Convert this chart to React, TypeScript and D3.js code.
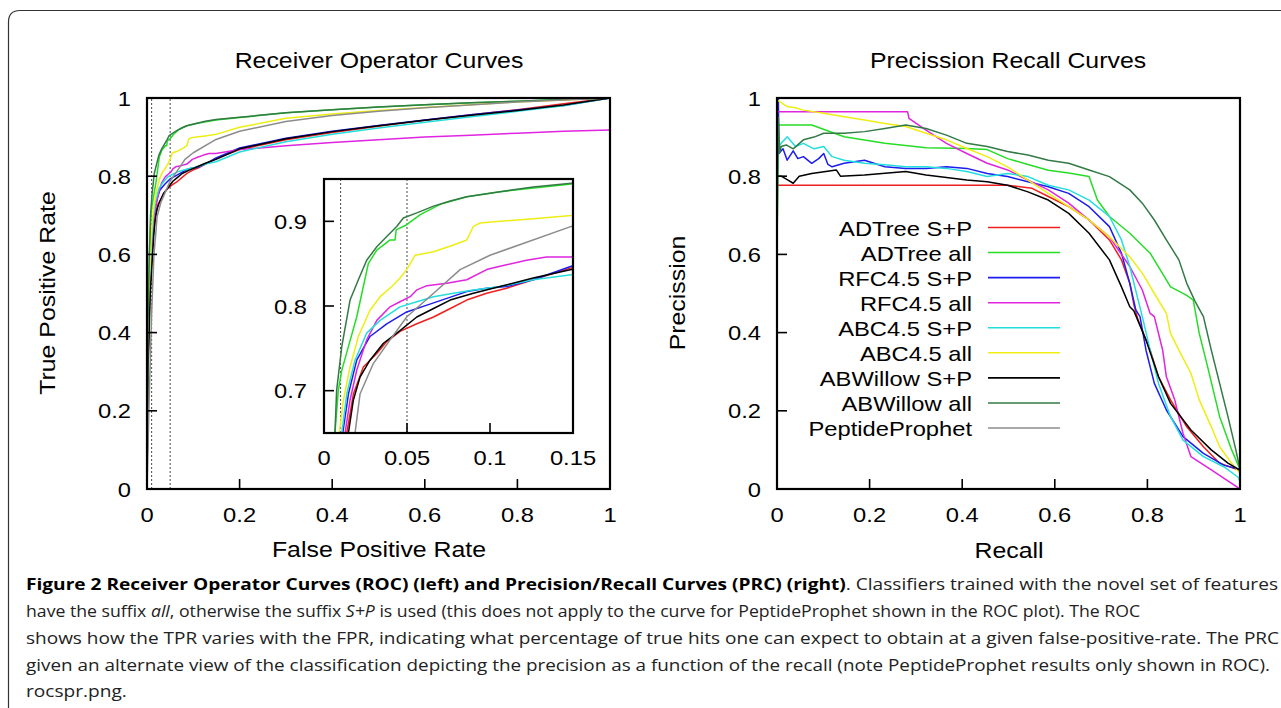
import * as d3 from 'd3'
import { useEffect, useRef } from 'react'

const seriesNames = ["ADTree S+P", "ADTree all", "RFC4.5 S+P", "RFC4.5 all", "ABC4.5 S+P", "ABC4.5 all", "ABWillow S+P", "ABWillow all", "PeptideProphet"]
const seriesColors = ["#ee1f1f", "#26dd26", "#1c1cee", "#e024e0", "#24dede", "#eeee14", "#000000", "#337a46", "#8c8c8c"]

// ROC points: [false positive rate, true positive rate]
const rocAdtreeSP = [[0,0],[0.002,0.3],[0.006,0.5],[0.01,0.58],[0.0137,0.65],[0.0177,0.696],[0.0237,0.728],[0.0318,0.744],[0.0378,0.758],[0.0458,0.77],[0.0559,0.779],[0.066,0.787],[0.074,0.795],[0.086,0.807],[0.098,0.815],[0.11,0.821],[0.126,0.831],[0.149,0.845],[0.2,0.868],[0.3,0.893],[0.4,0.912],[0.5,0.928],[0.6,0.943],[0.7,0.957],[0.8,0.97],[0.9,0.985],[1,1]]
const rocAdtreeAll = [[0,0],[0.002,0.35],[0.005,0.58],[0.0066,0.65],[0.0086,0.7],[0.0107,0.724],[0.0147,0.752],[0.0197,0.787],[0.0237,0.823],[0.0267,0.85],[0.0318,0.866],[0.0398,0.878],[0.0428,0.878],[0.0435,0.89],[0.0498,0.896],[0.058,0.908],[0.07,0.92],[0.086,0.929],[0.106,0.935],[0.149,0.944],[0.2,0.95],[0.3,0.962],[0.4,0.97],[0.5,0.977],[0.6,0.983],[0.7,0.988],[0.8,0.992],[0.9,0.996],[1,1]]
const rocRfcSP = [[0,0],[0.002,0.32],[0.006,0.52],[0.0113,0.65],[0.0147,0.696],[0.0197,0.736],[0.0277,0.764],[0.0378,0.779],[0.0498,0.793],[0.062,0.801],[0.074,0.809],[0.086,0.817],[0.098,0.821],[0.11,0.823],[0.126,0.831],[0.149,0.847],[0.2,0.872],[0.3,0.897],[0.4,0.915],[0.5,0.93],[0.6,0.944],[0.7,0.957],[0.8,0.969],[0.9,0.981],[1,1]]
const rocRfcAll = [[0,0],[0.002,0.33],[0.006,0.53],[0.0127,0.65],[0.0157,0.689],[0.0197,0.724],[0.0257,0.76],[0.0318,0.783],[0.0398,0.799],[0.0458,0.805],[0.0519,0.811],[0.0559,0.819],[0.062,0.824],[0.074,0.827],[0.086,0.831],[0.098,0.843],[0.106,0.847],[0.122,0.854],[0.134,0.858],[0.149,0.858],[0.2,0.868],[0.3,0.878],[0.4,0.886],[0.5,0.893],[0.6,0.9],[0.7,0.905],[0.8,0.91],[0.9,0.915],[1,0.918]]
const rocAbcSP = [[0,0],[0.002,0.33],[0.006,0.54],[0.0107,0.65],[0.0137,0.696],[0.0187,0.736],[0.0257,0.768],[0.0338,0.783],[0.0458,0.799],[0.0559,0.805],[0.066,0.811],[0.078,0.815],[0.09,0.819],[0.106,0.823],[0.126,0.831],[0.149,0.837],[0.2,0.862],[0.3,0.888],[0.4,0.907],[0.5,0.923],[0.6,0.938],[0.7,0.952],[0.8,0.966],[0.9,0.98],[1,1]]
const rocAbcAll = [[0,0],[0.002,0.34],[0.006,0.56],[0.0092,0.65],[0.0117,0.689],[0.0157,0.728],[0.0207,0.764],[0.0277,0.795],[0.0338,0.811],[0.0408,0.823],[0.0458,0.833],[0.0498,0.843],[0.0549,0.86],[0.066,0.864],[0.078,0.872],[0.086,0.878],[0.09,0.894],[0.094,0.898],[0.106,0.9],[0.126,0.903],[0.149,0.907],[0.2,0.925],[0.3,0.948],[0.4,0.959],[0.5,0.968],[0.6,0.976],[0.7,0.983],[0.8,0.99],[0.9,0.995],[1,1]]
const rocWillowSP = [[0,0],[0.002,0.3],[0.007,0.5],[0.0147,0.65],[0.0177,0.689],[0.0217,0.716],[0.0277,0.736],[0.0358,0.756],[0.0458,0.771],[0.0559,0.787],[0.066,0.797],[0.076,0.807],[0.09,0.815],[0.106,0.823],[0.126,0.833],[0.149,0.843],[0.2,0.87],[0.3,0.896],[0.4,0.914],[0.5,0.929],[0.6,0.943],[0.7,0.956],[0.8,0.968],[0.9,0.982],[1,1]]
const rocWillowAll = [[0,0],[0.002,0.4],[0.005,0.6],[0.0066,0.65],[0.0076,0.7],[0.0107,0.752],[0.0157,0.807],[0.0207,0.831],[0.0257,0.854],[0.0318,0.87],[0.0378,0.882],[0.0438,0.894],[0.0478,0.904],[0.0559,0.91],[0.066,0.918],[0.076,0.924],[0.086,0.929],[0.106,0.935],[0.126,0.9405],[0.149,0.945],[0.2,0.951],[0.3,0.962],[0.4,0.97],[0.5,0.977],[0.6,0.983],[0.7,0.988],[0.8,0.992],[0.9,0.996],[1,1]]
const rocPeptide = [[0,0],[0.004,0.2],[0.01,0.45],[0.015,0.6],[0.0187,0.65],[0.0217,0.696],[0.0297,0.732],[0.0398,0.76],[0.0498,0.787],[0.066,0.815],[0.082,0.843],[0.1,0.86],[0.149,0.894],[0.2,0.915],[0.3,0.94],[0.4,0.955],[0.5,0.966],[0.6,0.975],[0.8,0.99],[1,1]]
const rocCurves = [rocAdtreeSP, rocAdtreeAll, rocRfcSP, rocRfcAll, rocAbcSP, rocAbcAll, rocWillowSP, rocWillowAll, rocPeptide]

// PRC points: [recall, precision]
const prcAdtreeSP = [[0,0.777],[0.498,0.777],[0.551,0.769],[0.586,0.748],[0.63,0.722],[0.674,0.688],[0.718,0.637],[0.744,0.586],[0.762,0.526],[0.771,0.47],[0.78,0.432],[0.806,0.355],[0.824,0.287],[0.85,0.228],[0.885,0.159],[0.921,0.108],[0.956,0.066],[0.996,0.049],[1,0.048]]
const prcAdtreeAll = [[0,0.62],[0.003,0.931],[0.075,0.931],[0.145,0.901],[0.233,0.884],[0.322,0.873],[0.41,0.871],[0.454,0.868],[0.498,0.845],[0.542,0.83],[0.586,0.815],[0.63,0.808],[0.674,0.799],[0.692,0.739],[0.718,0.697],[0.762,0.654],[0.806,0.603],[0.85,0.517],[0.885,0.495],[0.899,0.483],[0.912,0.398],[0.93,0.313],[0.956,0.185],[0.982,0.1],[1,0.05]]
const prcRfcSP = [[0,1],[0.003,1],[0.004,0.858],[0.013,0.87],[0.022,0.841],[0.035,0.865],[0.045,0.845],[0.057,0.85],[0.075,0.833],[0.09,0.845],[0.101,0.858],[0.11,0.83],[0.119,0.824],[0.145,0.833],[0.189,0.841],[0.233,0.824],[0.278,0.82],[0.322,0.82],[0.366,0.824],[0.41,0.82],[0.454,0.807],[0.498,0.799],[0.542,0.786],[0.586,0.773],[0.63,0.756],[0.674,0.722],[0.718,0.671],[0.744,0.603],[0.762,0.526],[0.775,0.458],[0.784,0.441],[0.797,0.355],[0.815,0.27],[0.841,0.202],[0.877,0.134],[0.921,0.091],[0.965,0.061],[1,0.05]]
const prcRfcAll = [[0,0.965],[0.282,0.965],[0.285,0.948],[0.322,0.918],[0.366,0.884],[0.41,0.858],[0.454,0.833],[0.498,0.816],[0.542,0.79],[0.586,0.765],[0.63,0.731],[0.674,0.688],[0.718,0.645],[0.762,0.569],[0.789,0.509],[0.806,0.449],[0.815,0.441],[0.833,0.355],[0.841,0.287],[0.859,0.228],[0.877,0.142],[0.894,0.083],[0.938,0.049],[1,0]]
const prcAbcSP = [[0,0.87],[0.009,0.884],[0.022,0.901],[0.04,0.876],[0.057,0.884],[0.08,0.87],[0.101,0.876],[0.119,0.85],[0.145,0.841],[0.189,0.833],[0.233,0.829],[0.278,0.824],[0.322,0.824],[0.366,0.82],[0.41,0.812],[0.454,0.799],[0.498,0.807],[0.542,0.799],[0.586,0.777],[0.63,0.765],[0.674,0.739],[0.718,0.697],[0.744,0.637],[0.762,0.569],[0.78,0.483],[0.789,0.441],[0.806,0.355],[0.824,0.27],[0.85,0.185],[0.877,0.125],[0.921,0.083],[0.965,0.057],[0.996,0.03],[1,0.02]]
const prcAbcAll = [[0,0.995],[0.022,0.978],[0.04,0.975],[0.057,0.969],[0.101,0.961],[0.145,0.952],[0.189,0.944],[0.233,0.935],[0.278,0.927],[0.322,0.91],[0.366,0.893],[0.41,0.871],[0.454,0.85],[0.498,0.824],[0.542,0.79],[0.586,0.756],[0.63,0.722],[0.674,0.688],[0.718,0.645],[0.762,0.594],[0.789,0.552],[0.815,0.5],[0.841,0.449],[0.85,0.398],[0.868,0.355],[0.894,0.296],[0.912,0.228],[0.938,0.159],[0.956,0.108],[0.982,0.066],[1,0.04]]
const prcWillowSP = [[0,0.8],[0.009,0.8],[0.022,0.791],[0.035,0.782],[0.048,0.8],[0.075,0.807],[0.128,0.816],[0.137,0.8],[0.189,0.803],[0.278,0.812],[0.322,0.803],[0.41,0.79],[0.454,0.786],[0.498,0.777],[0.542,0.76],[0.586,0.739],[0.63,0.705],[0.674,0.654],[0.718,0.586],[0.744,0.517],[0.762,0.466],[0.771,0.455],[0.797,0.381],[0.824,0.287],[0.85,0.219],[0.894,0.151],[0.938,0.1],[0.974,0.066],[1,0.048]]
const prcWillowAll = [[0,0.62],[0.003,0.95],[0.006,0.86],[0.009,0.876],[0.02,0.88],[0.035,0.87],[0.057,0.893],[0.08,0.9],[0.101,0.91],[0.145,0.91],[0.189,0.914],[0.233,0.922],[0.278,0.931],[0.322,0.922],[0.366,0.905],[0.41,0.884],[0.454,0.876],[0.498,0.863],[0.542,0.854],[0.586,0.841],[0.63,0.833],[0.674,0.816],[0.718,0.799],[0.762,0.765],[0.789,0.731],[0.815,0.688],[0.841,0.637],[0.868,0.586],[0.885,0.526],[0.903,0.48],[0.921,0.441],[0.938,0.355],[0.956,0.27],[0.974,0.185],[0.991,0.1],[1,0.05]]
const prcCurves = [prcAdtreeSP, prcAdtreeAll, prcRfcSP, prcRfcAll, prcAbcSP, prcAbcAll, prcWillowSP, prcWillowAll]

const mainTicks = [0, 0.2, 0.4, 0.6, 0.8, 1]
const insetXTicks = [0, 0.05, 0.1, 0.15]
const insetYTicks = [0.7, 0.8, 0.9]
const fprCutoffs = [0.01, 0.05]

const captionLines = [
  [{ t: "Figure 2 Receiver Operator Curves (ROC) (left) and Precision/Recall Curves (PRC) (right)", b: true }, { t: ". Classifiers trained with the novel set of features" }],
  [{ t: "have the suffix " }, { t: "all", i: true }, { t: ", otherwise the suffix " }, { t: "S+P", i: true }, { t: " is used (this does not apply to the curve for PeptideProphet shown in the ROC plot). The ROC" }],
  [{ t: "shows how the TPR varies with the FPR, indicating what percentage of true hits one can expect to obtain at a given false-positive-rate. The PRC" }],
  [{ t: "given an alternate view of the classification depicting the precision as a function of the recall (note PeptideProphet results only shown in ROC)." }],
  [{ t: "rocspr.png." }],
]
// right end of each caption line (last one keeps its own width)
const captionEnds = [1278, 1140, 1279, 1270, null]

const FONT = "'Liberation Sans', Arial, Helvetica, sans-serif"
const SX = 1.13

function label(g, x, y, s, anchor, size, rot = false) {
  return g.append("text")
    .attr("transform", `translate(${x},${y})${rot ? " rotate(-90)" : ""} scale(${SX},1)`)
    .attr("text-anchor", anchor).attr("font-size", size).attr("font-family", FONT)
    .attr("fill", "#000").text(s)
}

function ticks(g, x, y, xt, yt, fs, xOff, yOff) {
  const [x0] = x.range()
  const [y0] = y.range()
  yt.forEach(v => {
    g.append("line").attr("x1", x0).attr("x2", x0 + 10).attr("y1", y(v)).attr("y2", y(v))
      .attr("stroke", "#000").attr("stroke-width", 1.6)
    label(g, x0 - yOff, y(v) + 7.5, String(v), "end", fs)
  })
  xt.forEach(v => {
    g.append("line").attr("x1", x(v)).attr("x2", x(v)).attr("y1", y0).attr("y2", y0 - 10)
      .attr("stroke", "#000").attr("stroke-width", 1.6)
    label(g, x(v), y0 + xOff, String(v), "middle", fs)
  })
}

function curves(g, x, y, data, clipId) {
  const line = d3.line().x(d => x(d[0])).y(d => y(d[1]))
  const cg = g.append("g").attr("clip-path", `url(#${clipId})`)
  data.forEach((pts, i) => {
    if (!pts) return
    cg.append("path").attr("d", line(pts)).attr("fill", "none")
      .attr("stroke", seriesColors[i]).attr("stroke-width", 1.5).attr("stroke-linejoin", "round")
  })
}

function clip(defs, id, x, y) {
  defs.append("clipPath").attr("id", id).append("rect")
    .attr("x", x.range()[0]).attr("y", y.range()[1])
    .attr("width", x.range()[1] - x.range()[0]).attr("height", y.range()[0] - y.range()[1])
}

function box(g, x, y) {
  g.append("rect").attr("x", x.range()[0]).attr("y", y.range()[1])
    .attr("width", x.range()[1] - x.range()[0]).attr("height", y.range()[0] - y.range()[1])
    .attr("fill", "none").attr("stroke", "#000").attr("stroke-width", 2.2)
}

function cutoffLines(g, x, y) {
  fprCutoffs.forEach(c => {
    g.append("line").attr("x1", x(c)).attr("x2", x(c)).attr("y1", y.range()[0]).attr("y2", y.range()[1])
      .attr("stroke", "#333").attr("stroke-width", 0.9).attr("stroke-dasharray", "2,2")
  })
}

function makeChart(el) {
  const svg = d3.select(el)
  svg.selectAll("*").remove()
  const defs = svg.append("defs")

  // outer frame
  svg.append("path").attr("d", "M8.5,708 V22 Q8.5,10.5 20,10.5 H1281")
    .attr("fill", "none").attr("stroke", "#333").attr("stroke-width", 1.2)

  // ROC panel
  const rx = d3.scaleLinear().domain([0, 1]).range([147, 610])
  const ry = d3.scaleLinear().domain([0, 1]).range([489, 98])
  const roc = svg.append("g")
  clip(defs, "clipRoc", rx, ry)
  cutoffLines(roc, rx, ry)
  curves(roc, rx, ry, rocCurves, "clipRoc")
  ticks(roc, rx, ry, mainTicks, mainTicks, 21, 33, 16)
  box(roc, rx, ry)
  label(roc, 379, 68, "Receiver Operator Curves", "middle", 22)
  label(roc, 379, 557, "False Positive Rate", "middle", 22)
  label(roc, 55, 293, "True Positive Rate", "middle", 22, true)

  // ROC inset
  const ix = d3.scaleLinear().domain([0, 0.15]).range([324, 573])
  const iy = d3.scaleLinear().domain([0.65, 0.95]).range([433, 179])
  const inset = svg.append("g")
  inset.append("rect").attr("x", 324).attr("y", 179).attr("width", 249).attr("height", 254).attr("fill", "#fff")
  clip(defs, "clipInset", ix, iy)
  cutoffLines(inset, ix, iy)
  curves(inset, ix, iy, rocCurves, "clipInset")
  ticks(inset, ix, iy, insetXTicks, insetYTicks, 21, 32, 17)
  box(inset, ix, iy)

  // PRC panel
  const px = d3.scaleLinear().domain([0, 1]).range([777, 1240])
  const py = d3.scaleLinear().domain([0, 1]).range([489, 98])
  const prc = svg.append("g")
  clip(defs, "clipPrc", px, py)
  curves(prc, px, py, prcCurves, "clipPrc")
  ticks(prc, px, py, mainTicks, mainTicks, 21, 33, 16)
  box(prc, px, py)
  label(prc, 1008, 68, "Precission Recall Curves", "middle", 22)
  label(prc, 1009, 558, "Recall", "middle", 22)
  label(prc, 685, 293, "Precission", "middle", 22, true)

  // legend
  const ly = d3.scalePoint().domain(seriesNames).range([227.5, 428])
  const legend = prc.append("g")
  seriesNames.forEach((n, i) => {
    label(legend, 972, ly(n) + 8, n, "end", 21)
    legend.append("line").attr("x1", 988).attr("x2", 1060).attr("y1", ly(n)).attr("y2", ly(n))
      .attr("stroke", seriesColors[i]).attr("stroke-width", 1.6)
  })

  // caption
  const capX = 26
  const capY = [590, 617, 644, 671, 697]
  const cap = svg.append("g").attr("font-family", "'Open Sans', 'Noto Sans', sans-serif")
    .attr("font-size", 16.5).attr("fill", "#222")
  captionLines.forEach((parts, i) => {
    const t = cap.append("text").attr("x", capX).attr("y", capY[i])
    parts.forEach(p => {
      t.append("tspan").attr("font-weight", p.b ? "bold" : null)
        .attr("font-style", p.i ? "italic" : null).attr("fill", p.b ? "#000" : null).text(p.t)
    })
  })
  const nodes = cap.selectAll("text").nodes()
  const k = (captionEnds[0] - capX) / nodes[0].getComputedTextLength()
  nodes.forEach((n, i) => {
    const w = captionEnds[i] ? captionEnds[i] - capX : n.getComputedTextLength() * k
    n.setAttribute("textLength", String(w))
    n.setAttribute("lengthAdjust", "spacingAndGlyphs")
  })
}

export default function App() {
  const ref = useRef(null)
  useEffect(() => {
    makeChart(ref.current)
  }, [])
  return (
    <svg ref={ref} width={1281} height={708}
      style={{ position: "absolute", left: 0, top: 0, background: "#fff" }} />
  )
}
